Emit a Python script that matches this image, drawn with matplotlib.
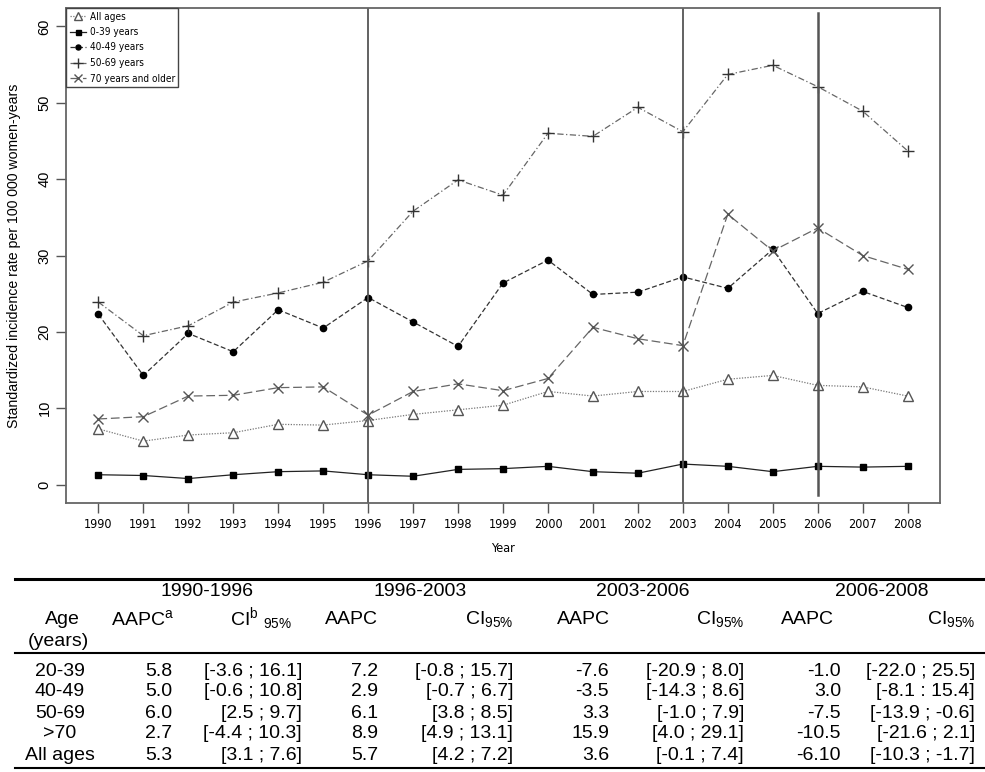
import numpy as np
import matplotlib.pyplot as plt
from matplotlib.lines import Line2D

plt.rcParams['font.family'] = ['Liberation Sans', 'DejaVu Sans']
plt.rcParams['mathtext.fontset'] = 'custom'
plt.rcParams['mathtext.rm'] = 'Liberation Sans'
plt.rcParams['mathtext.it'] = 'Liberation Sans'

# incidence rates per 100 000 women-years
years = np.arange(1990, 2009)
all_ages = [7.3, 5.7, 6.5, 6.8, 7.9, 7.8, 8.4, 9.2, 9.8, 10.4, 12.2, 11.6, 12.2, 12.2, 13.8, 14.3, 13.0, 12.8, 11.6]
age_0_39 = [1.3, 1.2, 0.8, 1.3, 1.7, 1.8, 1.3, 1.1, 2.0, 2.1, 2.4, 1.7, 1.5, 2.7, 2.4, 1.7, 2.4, 2.3, 2.4]
age_40_49 = [22.3, 14.3, 19.8, 17.4, 22.9, 20.5, 24.5, 21.3, 18.1, 26.4, 29.4, 24.9, 25.2, 27.2, 25.7, 30.8, 22.4, 25.3, 23.2]
age_50_69 = [23.9, 19.5, 20.8, 23.9, 25.1, 26.5, 29.3, 35.8, 39.9, 37.9, 46.0, 45.6, 49.4, 46.2, 53.7, 54.9, 52.1, 48.9, 43.7]
age_70 = [8.6, 8.9, 11.6, 11.7, 12.7, 12.8, 9.1, 12.2, 13.2, 12.3, 13.9, 20.6, 19.1, 18.2, 35.4, 30.6, 33.6, 30.0, 28.2]
breaks = [1996, 2003, 2006]

# AAPC table
periods = ["1990-1996", "1996-2003", "2003-2006", "2006-2008"]
age_groups = ["20-39", "40-49", "50-69", ">70", "All ages"]
aapc = [["5.8", "5.0", "6.0", "2.7", "5.3"],
        ["7.2", "2.9", "6.1", "8.9", "5.7"],
        ["-7.6", "-3.5", "3.3", "15.9", "3.6"],
        ["-1.0", "3.0", "-7.5", "-10.5", "-6.10"]]
ci = [["[-3.6 ; 16.1]", "[-0.6 ; 10.8]", "[2.5 ; 9.7]", "[-4.4 ; 10.3]", "[3.1 ; 7.6]"],
      ["[-0.8 ; 15.7]", "[-0.7 ; 6.7]", "[3.8 ; 8.5]", "[4.9 ; 13.1]", "[4.2 ; 7.2]"],
      ["[-20.9 ; 8.0]", "[-14.3 ; 8.6]", "[-1.0 ; 7.9]", "[4.0 ; 29.1]", "[-0.1 ; 7.4]"],
      ["[-22.0 ; 25.5]", "[-8.1 : 15.4]", "[-13.9 ; -0.6]", "[-21.6 ; 2.1]", "[-10.3 ; -1.7]"]]

W, H = 985, 772
fig = plt.figure(figsize=(W / 100, H / 100), dpi=100)
ax = fig.add_axes([66 / W, 1 - 503 / H, (940 - 66) / W, (503 - 8) / H])

narrow = ['Liberation Sans Narrow', 'DejaVu Sans']

series = [
    ("All ages", all_ages, dict(color='#777777', ls=(0, (1, 1.2)), marker='^', mfc='white', mec='#555555', ms=7, mew=1)),
    ("0-39 years", age_0_39, dict(color='#222222', ls='-', marker='s', mfc='black', mec='black', ms=4.5)),
    ("40-49 years", age_40_49, dict(color='#333333', ls=(0, (4, 2)), marker='o', mfc='black', mec='black', ms=4.5)),
    ("50-69 years", age_50_69, dict(color='#666666', ls=(0, (5, 2, 1, 2)), marker='+', mec='#333333', ms=9, mew=1)),
    ("70 years and older", age_70, dict(color='#666666', ls=(0, (7, 3)), marker='x', mec='#555555', ms=7, mew=1)),
]
for name, vals, st in series:
    ax.plot(years, vals, lw=0.9, label=name, **st)

for b in breaks:
    ax.axvline(b, color='#555555', lw=1.3 if b != 2006 else 1.8,
               ymin=0 if b != 2006 else 0.017, ymax=1 if b != 2006 else 0.99)

ax.set_xlim(1989.28, 2008.72)
ax.set_ylim(-2.4, 62.4)
ax.set_xticks(years)
ax.set_xticklabels([str(y) for y in years], family=narrow, fontsize=9, stretch='condensed')
ax.set_yticks(np.arange(0, 61, 10))
ax.set_yticklabels([str(v) for v in range(0, 61, 10)], rotation=90, va='center', fontsize=10.5)
ax.tick_params(direction='out', length=7, width=1, color='#555555')
for s in ax.spines.values():
    s.set_color('#666666')
    s.set_linewidth(1.3)
ax.set_xlabel("Year", family=narrow, fontsize=9, stretch='condensed', labelpad=8)
ax.set_ylabel("Standardized incidence rate per 100 000 women-years", fontsize=10.2, labelpad=12)

leg = ax.legend(loc='upper left', borderaxespad=0, fancybox=False, framealpha=1,
                edgecolor='#444444', handlelength=1.6, handletextpad=0.4,
                labelspacing=0.55, borderpad=0.35, markerscale=0.8,
                prop=dict(family=narrow, size=7.2, stretch='condensed'))
leg.get_frame().set_linewidth(1)

# table below
def fy(py):
    return 1 - py / H

def fx(px):
    return px / W

fs = 14
for yy, lw in [(579, 2.2), (653, 1.5), (768, 1.5)]:
    fig.add_artist(Line2D([fx(15), fx(985)], [fy(yy), fy(yy)], color='black', lw=lw))

period_x = [207, 420, 643, 882]
aapc_x = [172, 378, 609, 841]
ci_x = [302, 513, 744, 975]
aapc_head_x = [174, 378, 610, 834]
ci_head_x = [292, 513, 744, 975]

for i, p in enumerate(periods):
    fig.text(fx(period_x[i]), fy(592), p, ha='center', va='center', fontsize=fs)
    head_a = r"AAPC$^{\mathrm{a}}$" if i == 0 else "AAPC"
    head_c = r"CI$^{\mathrm{b}}$ $_{95\%}$" if i == 0 else r"CI$_{95\%}$"
    fig.text(fx(aapc_head_x[i]), fy(619), head_a, ha='right', va='center', fontsize=fs)
    fig.text(fx(ci_head_x[i]), fy(619), head_c, ha='right', va='center', fontsize=fs)

fig.text(fx(62), fy(619), "Age", ha='center', va='center', fontsize=fs)
fig.text(fx(58), fy(641), "(years)", ha='center', va='center', fontsize=fs)

row_y = [672, 692, 713, 734, 755]
for r, g in enumerate(age_groups):
    fig.text(fx(60), fy(row_y[r]), g, ha='center', va='center', fontsize=fs)
    for i in range(len(periods)):
        fig.text(fx(aapc_x[i]), fy(row_y[r]), aapc[i][r], ha='right', va='center', fontsize=fs)
        fig.text(fx(ci_x[i]), fy(row_y[r]), ci[i][r], ha='right', va='center', fontsize=fs)

fig.savefig("out.png", dpi=100)
